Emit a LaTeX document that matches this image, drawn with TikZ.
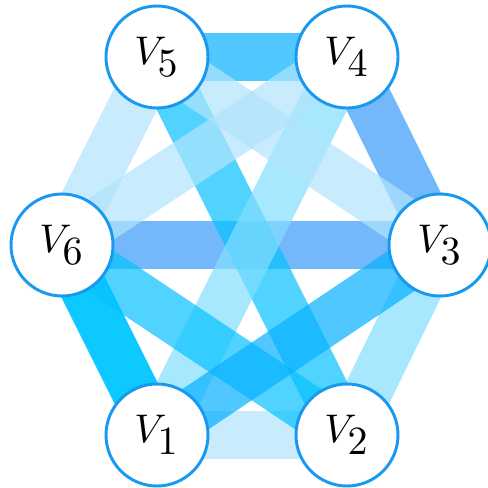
\documentclass[tikz,border=0pt]{standalone}
\usetikzlibrary{backgrounds}
\definecolor{nodeblue}{RGB}{25,152,240}
\definecolor{cA}{RGB}{5,176,255}
\definecolor{cB}{RGB}{55,154,248}
\definecolor{cC}{RGB}{176,228,252}
\definecolor{cD}{RGB}{0,198,255}
\definecolor{cE}{RGB}{131,222,255}
\definecolor{cF}{RGB}{5,194,255}
\newcommand\vlab[1]{\scalebox{3.0}{$V_{\textstyle #1}$}}
\begin{document}
\begin{tikzpicture}[x=0.75pt,y=-0.75pt,
  vert/.style={circle,draw=nodeblue,line width=2.2pt,fill=white,minimum size=76.5pt,inner sep=0pt},
  edge/.style={line width=36pt,opacity=0.7}]
\useasboundingbox (0,0) rectangle (487,488);
\node[vert] (v5) at (157,57) {\vlab{5}};
\node[vert] (v4) at (347,57) {\vlab{4}};
\node[vert] (v3) at (440,245) {\vlab{3}};
\node[vert] (v2) at (347,435) {\vlab{2}};
\node[vert] (v1) at (157,435) {\vlab{1}};
\node[vert] (v6) at (62,245) {\vlab{6}};
\begin{scope}[on background layer]
\draw[edge,cA] (v5.center) -- (v4.center);
\draw[edge,cB] (v4.center) -- (v3.center);
\draw[edge,cE] (v3.center) -- (v2.center);
\draw[edge,cC] (v2.center) -- (v1.center);
\draw[edge,cD,opacity=0.95] (v1.center) -- (v6.center);
\draw[edge,cC] (v6.center) -- (v5.center);
\draw[edge,cB] (v6.center) -- (v3.center);
\draw[edge,cF] (v5.center) -- (v2.center);
\draw[edge,cE] (v1.center) -- (v4.center);
\draw[edge,cC] (v5.center) -- (v3.center);
\draw[edge,cC] (v4.center) -- (v6.center);
\draw[edge,cF] (v6.center) -- (v2.center);
\draw[edge,cA] (v1.center) -- (v3.center);
\end{scope}
\end{tikzpicture}
\end{document}
